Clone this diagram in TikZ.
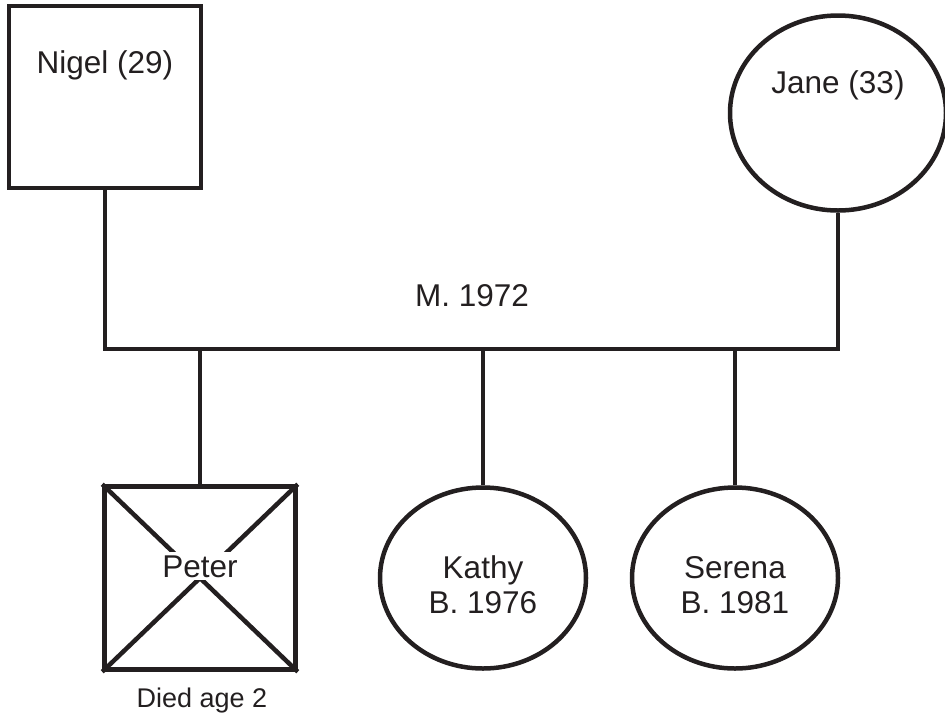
\documentclass[tikz,border=0pt]{standalone}
\usepackage{fontspec}
\setmainfont{Liberation Sans}
\usepackage{tikz}
\usetikzlibrary{calc,positioning,shapes.geometric}
\definecolor{pedink}{HTML}{231F20}

\tikzset{
  male/.style={draw=pedink, line width=4.5pt, rectangle, inner sep=0pt,
    minimum width=192pt, minimum height=182pt},
  female/.style={draw=pedink, line width=4.5pt, ellipse, inner sep=0pt,
    minimum width=206pt, minimum height=181pt},
  tag/.style={text=pedink, anchor=base, inner sep=0pt,
    font=\fontsize{31.5}{36}\selectfont},
  smalltag/.style={tag, font=\fontsize{27}{31}\selectfont},
  kin/.style={draw=pedink, line width=4.5pt}
}

\begin{document}
\begin{tikzpicture}[x=1pt,y=-1pt]
  \useasboundingbox (0,0) rectangle (945,713);

  % parents
  \node[male] (nigel) at (105,97) {};
  \node[female, minimum width=216pt, minimum height=195pt] (jane) at (838,113) {};
  \node[tag] (nigeltxt) at (105,73) {Nigel (29)};
  \node[tag] (janetxt) at (838,93) {Jane (33)};

  % children
  \node[male, minimum width=191pt, minimum height=183pt] (peter) at (200,578) {};
  \node[female] (kathy) at (483,578) {};
  \node[female] (serena) at (735,578) {};

  % marriage line
  \coordinate (barL) at (nigel.south |- 0,349);
  \coordinate (barR) at (jane.south |- 0,349);
  \draw[kin] (nigel.south) -- (barL) -- (barR) -- (jane.south);
  \node[tag] (wed) at (472,306) {M. 1972};

  \foreach \kid in {peter,kathy,serena}
    \draw[kin] (\kid.north) -- (\kid.north |- barL);

  % deceased
  \draw[kin] (peter.north west) -- (peter.south east)
             (peter.north east) -- (peter.south west);
  \node[tag, fill=white, inner sep=3pt] (petertxt) at (200,577) {Peter};
  \node[smalltag] (died) at (202,707) {Died age 2};

  \node[tag] (kathytxt) at (483,578) {Kathy};
  \node[tag] (kathyyr) at (483,613) {B. 1976};
  \node[tag] (serenatxt) at (735,578) {Serena};
  \node[tag] (serenayr) at (735,613) {B. 1981};
\end{tikzpicture}
\end{document}
